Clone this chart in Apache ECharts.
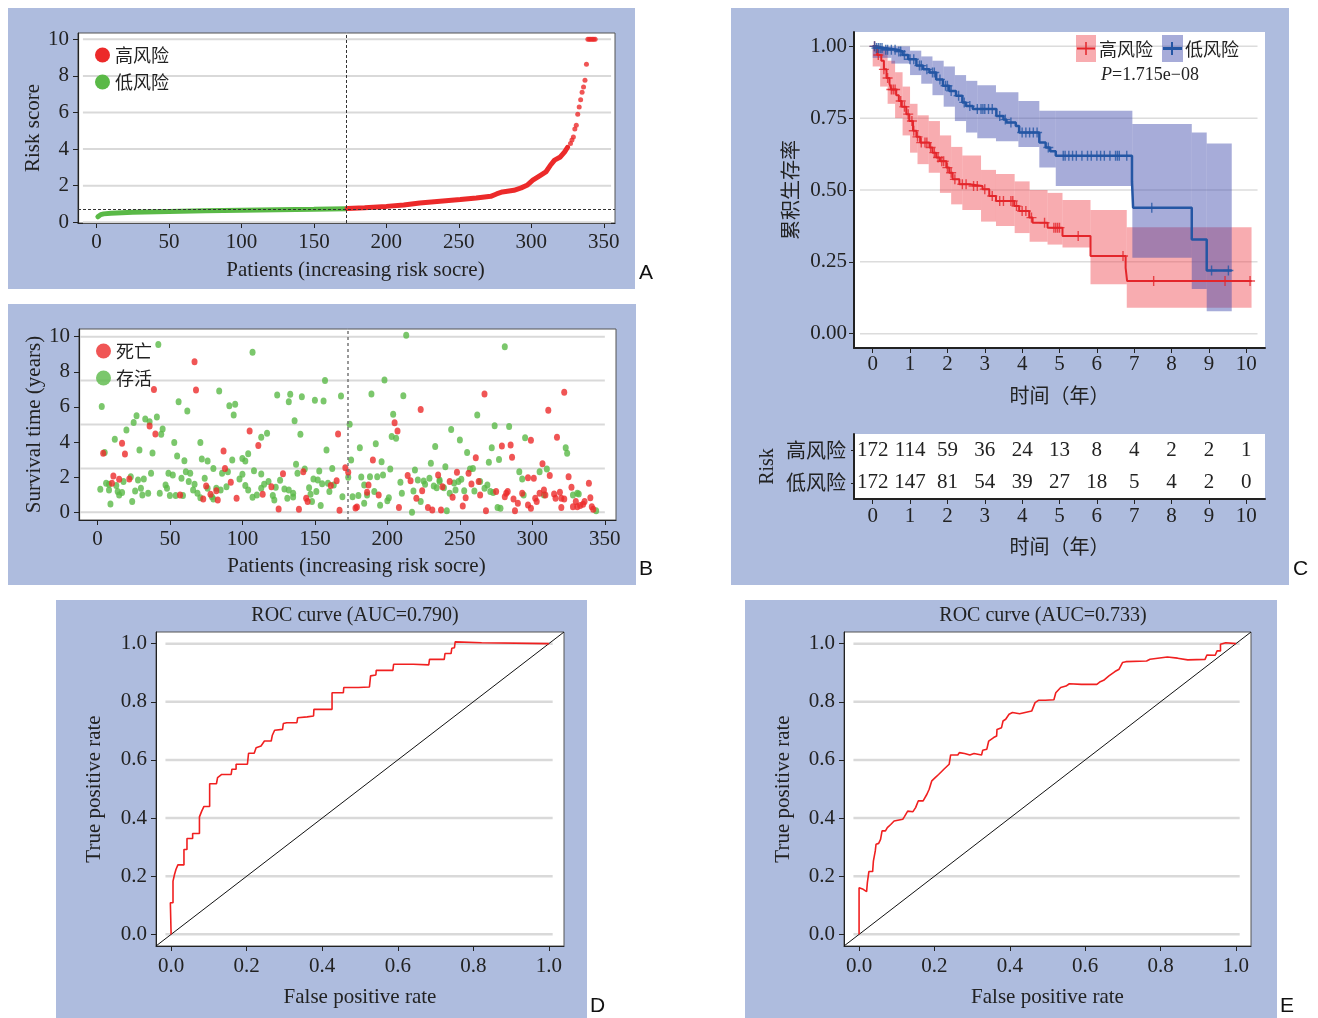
<!DOCTYPE html>
<html>
<head>
<meta charset="utf-8">
<title>风险评分、生存分析与ROC曲线</title>
<script src="https://cdn.jsdelivr.net/npm/echarts@6/dist/echarts.min.js"></script>
<style>
  html, body { margin: 0; padding: 0; background: #fff; }
  #main { width: 1318px; height: 1018px; }
</style>
</head>
<body>
<div id="main"></div>
<script>
// ---------------- 数据 ----------------
// A：按风险评分排序的患者
var lowRiskPatient = [1, 3, 5, 10, 25, 50, 75, 100, 125, 150, 172];
var lowRiskScore = [0.30, 0.42, 0.46, 0.50, 0.55, 0.59, 0.63, 0.66, 0.69, 0.71, 0.74];
var highRiskPatient = [173, 185, 200, 212, 223, 237, 251, 262, 272, 276, 280, 288, 293, 297, 301, 306, 310, 313, 316, 320, 323, 325];
var highRiskScore = [0.75, 0.80, 0.87, 0.95, 1.06, 1.15, 1.24, 1.33, 1.42, 1.55, 1.66, 1.75, 1.88, 2.02, 2.30, 2.55, 2.75, 3.10, 3.40, 3.57, 3.85, 4.10];
var tailPatient = [327, 328, 329, 330, 331, 332, 333, 334, 335, 336, 337, 338, 339, 340, 341, 342, 343, 344];
var tailScore = [4.3, 4.5, 4.66, 5.1, 5.3, 5.9, 6.3, 6.7, 7.1, 7.4, 7.76, 8.63, 10, 10, 10, 10, 10, 10];
var cutPatient = 172.5;
var cutScore = 0.74;
var patientTicks = [0, 50, 100, 150, 200, 250, 300, 350];
var riskTicks = [0, 2, 4, 6, 8, 10];

// B：生存时间（年）与状态
var alivePts = [
  [42, 9.56], [107, 9.11], [3, 6.02], [56, 6.3], [62, 5.77], [84, 6.91], [91, 6.07], [95, 6.15], [94, 5.54], [27, 5.5],
  [25, 5.12], [33, 5.31], [36, 5.16], [41, 5.43], [45, 4.74], [44, 4.44], [20, 4.69], [12, 4.16], [53, 3.98], [71, 3.97],
  [113, 4.27], [5, 3.4], [29, 3.55], [38, 3.38], [55, 3.21], [60, 2.94], [72, 3.04], [76, 2.92], [80, 2.5], [93, 2.98],
  [100, 3.07], [102, 2.92], [104, 3.34], [37, 2.22], [49, 2.22], [52, 2.13], [61, 2.31], [64, 2.22], [86, 2.22], [90, 2.31],
  [108, 2.37], [113, 2.18], [2, 1.31], [6, 1.65], [8, 1.59], [8, 1.27], [9, 0.47], [13, 1.52], [14, 1.18], [15, 0.99],
  [17, 1.12], [18, 1.75], [23, 2.03], [24, 0.61], [26, 1.21], [28, 1.84], [30, 1.37], [31, 0.99], [32, 1.9], [35, 1.08],
  [43, 1.08], [47, 1.56], [48, 1.37], [50, 0.95], [54, 0.95], [59, 0.95], [58, 1.94], [63, 1.75], [66, 1.27], [67, 1.59],
  [69, 1.08], [71, 0.83], [74, 1.94], [76, 1.37], [79, 0.89], [80, 0.76], [82, 1.37], [85, 1.27], [89, 1.46], [98, 1.9],
  [100, 2.16], [102, 1.52], [104, 1.27], [107, 0.85], [110, 0.99], [113, 1.37], [115, 1.59],
  [213, 10.09], [157, 7.5], [198, 7.53], [124, 6.68], [133, 6.72], [132, 6.3], [141, 6.58], [150, 6.38], [156, 6.34], [168, 6.62],
  [189, 6.74], [211, 6.64], [204, 5.58], [136, 5.22], [174, 5.01], [117, 4.5], [140, 4.44], [203, 4.31], [206, 4.21], [192, 3.91],
  [181, 3.68], [158, 3.55], [233, 3.74], [175, 2.98], [196, 2.88], [137, 2.73], [143, 2.47], [138, 2.22], [153, 2.35], [162, 2.5],
  [202, 2.47], [219, 2.41], [230, 2.79], [118, 1.75], [123, 1.42], [126, 1.82], [121, 0.95], [122, 0.7], [129, 1.33], [131, 0.8],
  [132, 1.27], [135, 1.08], [135, 0.87], [146, 1.4], [147, 1.02], [148, 0.61], [149, 1.9], [152, 1.84], [151, 1.18], [154, 0.38],
  [155, 1.63], [159, 1.65], [160, 1.18], [163, 1.56], [169, 0.89], [173, 1.99], [176, 0.89], [180, 0.95], [182, 2.01], [184, 1.56],
  [184, 0.51], [186, 0.99], [188, 2.03], [191, 1.18], [193, 2.03], [195, 0.4], [197, 2.13], [200, 0.65], [201, 0.83], [209, 1.71],
  [210, 1.08], [217, 0.0], [218, 1.21], [221, 1.84], [223, 0.61], [225, 1.78], [226, 1.59], [229, 1.94], [232, 1.5], [234, 1.4],
  [236, 1.84],
  [281, 9.43], [262, 5.54], [274, 4.93], [284, 4.88], [244, 4.72], [250, 4.12], [295, 4.25], [272, 3.68], [255, 3.4], [323, 3.68],
  [324, 3.36], [270, 2.85], [277, 3.0], [240, 2.6], [257, 2.47], [259, 2.5], [291, 2.31], [293, 1.9], [305, 2.31], [310, 2.47],
  [236, 1.75], [239, 1.4], [246, 1.67], [249, 1.75], [251, 1.88], [247, 1.27], [243, 1.08], [253, 1.23], [260, 1.21], [264, 1.75],
  [267, 1.37], [269, 1.56], [271, 1.18], [273, 1.12], [276, 0.27], [278, 0.23], [241, 0.09], [294, 0.99], [308, 0.99], [328, 0.99],
  [331, 1.08], [332, 1.04], [344, 0.08]
];
var deadPts = [
  [67, 8.58], [39, 7.0], [68, 6.96], [36, 4.91], [40, 4.46], [17, 3.93], [19, 3.32], [4, 3.36], [87, 3.49], [105, 4.63],
  [111, 3.8], [88, 2.5], [92, 1.71], [11, 2.07], [15, 1.88], [22, 1.9], [10, 1.65], [75, 1.5], [82, 1.23], [83, 0.7],
  [73, 0.76], [57, 0.99], [96, 0.8], [78, 1.02],
  [166, 4.46], [223, 5.86], [205, 5.1], [207, 4.63], [190, 2.98], [171, 2.54], [173, 2.28], [128, 2.2], [165, 1.8], [161, 1.52],
  [120, 1.46], [114, 1.02], [142, 2.31], [144, 0.8], [145, 0.61], [125, 0.19], [139, 0.17], [167, 0.11], [178, 0.25], [179, 0.3],
  [187, 1.56], [186, 1.14], [194, 0.99], [208, 0.27], [214, 2.09], [216, 1.8], [220, 0.8], [224, 1.23], [228, 0.27], [231, 0.13],
  [235, 2.13], [237, 0.13],
  [267, 6.74], [322, 6.83], [311, 5.81], [299, 4.1], [317, 4.27], [279, 3.78], [285, 3.83], [286, 3.13], [261, 3.11], [307, 2.77],
  [312, 2.09], [248, 2.28], [256, 2.22], [243, 1.75], [238, 1.46], [245, 0.85], [254, 0.83], [252, 0.36], [258, 1.61], [263, 1.75],
  [264, 0.99], [275, 1.18], [282, 1.08], [283, 1.18], [281, 0.89], [288, 0.09], [268, 0.09], [287, 0.76], [290, 0.51], [293, 1.08],
  [297, 1.97], [301, 1.94], [297, 0.42], [299, 0.23], [302, 0.8], [303, 0.61], [305, 1.08], [308, 1.27], [309, 0.99], [315, 1.04],
  [316, 0.8], [319, 1.14], [320, 0.8], [322, 0.76], [320, 0.27], [325, 2.03], [327, 1.42], [328, 0.32], [330, 0.61], [331, 0.32],
  [333, 0.38], [335, 0.46], [336, 0.61], [339, 1.65], [340, 0.83], [341, 0.32], [342, 0.17]
];
var survTicks = [0, 2, 4, 6, 8, 10];
var survGridY = [0, 2.5, 5, 7.5, 10];

// C：Kaplan-Meier 曲线
var kmHighT = [0, 0.12, 0.23, 0.3, 0.37, 0.45, 0.5, 0.63, 0.7, 0.78, 0.9, 0.98, 1.08, 1.17, 1.27, 1.52, 1.6, 1.7, 1.8, 1.97, 2.05, 2.14, 2.32, 2.59, 2.94, 3.12, 3.3, 3.79, 3.92, 4.19, 4.28, 4.68, 5.08, 5.83, 6.77, 6.81, 10.14];
var kmHighS = [1.0, 0.97, 0.95, 0.92, 0.89, 0.87, 0.85, 0.83, 0.81, 0.79, 0.764, 0.74, 0.706, 0.685, 0.665, 0.648, 0.63, 0.613, 0.6, 0.578, 0.56, 0.537, 0.52, 0.514, 0.503, 0.479, 0.462, 0.444, 0.427, 0.404, 0.386, 0.369, 0.34, 0.27, 0.229, 0.183, 0.183];
var kmLowT = [0, 0.1, 0.3, 0.67, 0.8, 0.95, 1.17, 1.35, 1.52, 1.7, 1.88, 2.05, 2.23, 2.4, 2.5, 2.68, 3.31, 3.5, 3.58, 3.83, 3.92, 4.46, 4.63, 4.75, 4.9, 6.94, 6.97, 8.54, 8.94, 9.61];
var kmLowS = [1.0, 0.994, 0.988, 0.982, 0.97, 0.955, 0.933, 0.92, 0.909, 0.885, 0.863, 0.845, 0.828, 0.805, 0.792, 0.782, 0.758, 0.745, 0.735, 0.723, 0.70, 0.665, 0.648, 0.635, 0.619, 0.53, 0.438, 0.328, 0.22, 0.22];
var censorHighT = [0.05, 0.15, 0.3, 0.4, 0.5, 0.55, 0.6, 0.75, 0.85, 0.95, 1.05, 1.1, 1.2, 1.3, 1.4, 1.45, 1.55, 1.65, 1.75, 1.85, 1.9, 2.0, 2.1, 2.2, 2.4, 2.5, 2.7, 2.8, 3.0, 3.2, 3.4, 3.5, 3.7, 3.75, 3.85, 4.0, 4.1, 4.25, 4.6, 4.85, 4.9, 4.95, 5.0, 5.5, 6.7, 7.52, 9.43, 10.1];
var censorLowT = [0.05, 0.1, 0.15, 0.2, 0.25, 0.35, 0.4, 0.5, 0.6, 0.7, 0.75, 0.85, 1.0, 1.1, 1.25, 1.3, 1.45, 1.6, 1.65, 1.8, 1.95, 2.0, 2.1, 2.3, 2.45, 2.6, 2.8, 2.9, 2.95, 3.0, 3.1, 3.2, 3.4, 3.55, 3.7, 4.0, 4.1, 4.2, 4.3, 4.4, 4.7, 5.1, 5.15, 5.25, 5.35, 5.45, 5.6, 5.75, 5.85, 6.0, 6.1, 6.2, 6.35, 6.5, 6.55, 6.6, 6.8, 7.47, 9.07, 9.52];
// 置信区间 [起, 止, 下限, 上限]
var bandHigh = [
  [0, 0.2, 0.93, 1.0], [0.2, 0.4, 0.86, 0.99], [0.4, 0.6, 0.8, 0.95], [0.6, 0.8, 0.75, 0.91], [0.8, 1.0, 0.69, 0.86],
  [1.0, 1.2, 0.63, 0.8], [1.2, 1.5, 0.59, 0.76], [1.5, 1.8, 0.56, 0.74], [1.8, 2.1, 0.49, 0.69], [2.1, 2.4, 0.45, 0.65],
  [2.4, 2.9, 0.43, 0.62], [2.9, 3.3, 0.39, 0.57], [3.3, 3.8, 0.375, 0.556], [3.8, 4.2, 0.35, 0.53], [4.2, 4.68, 0.32, 0.5],
  [4.68, 5.08, 0.31, 0.49], [5.08, 5.83, 0.3, 0.465], [5.83, 6.8, 0.172, 0.43], [6.8, 10.14, 0.09, 0.37]
];
var bandLow = [
  [0, 0.5, 0.96, 1.0], [0.5, 1.0, 0.94, 1.0], [1.0, 1.3, 0.9, 0.985], [1.3, 1.6, 0.87, 0.965], [1.6, 1.9, 0.83, 0.95],
  [1.9, 2.2, 0.79, 0.93], [2.2, 2.5, 0.74, 0.9], [2.5, 2.8, 0.7, 0.88], [2.8, 3.3, 0.68, 0.865], [3.3, 3.9, 0.67, 0.84],
  [3.9, 4.46, 0.65, 0.81], [4.46, 4.9, 0.578, 0.776], [4.9, 6.95, 0.514, 0.776], [6.95, 8.54, 0.264, 0.73],
  [8.54, 8.94, 0.155, 0.70], [8.94, 9.61, 0.078, 0.662]
];
var yearTicks = [0, 1, 2, 3, 4, 5, 6, 7, 8, 9, 10];
var kmTicks = [0, 0.25, 0.5, 0.75, 1.0];
var riskGroups = ['低风险', '高风险'];
var atRiskHigh = [172, 114, 59, 36, 24, 13, 8, 4, 2, 2, 1];
var atRiskLow = [172, 147, 81, 54, 39, 27, 18, 5, 4, 2, 0];

// D、E：ROC 曲线
var rocTicks = [0, 0.2, 0.4, 0.6, 0.8, 1.0];
var rocD_fpr = [0, -0.002, 0.005, 0.005, 0.009, 0.013, 0.018, 0.034, 0.034, 0.042, 0.042, 0.057, 0.057, 0.075, 0.075, 0.081, 0.087, 0.102, 0.102, 0.12, 0.123, 0.134, 0.159, 0.161, 0.172, 0.172, 0.202, 0.205, 0.22, 0.225, 0.238, 0.247, 0.265, 0.268, 0.274, 0.295, 0.297, 0.306, 0.333, 0.335, 0.36, 0.377, 0.378, 0.406, 0.426, 0.426, 0.456, 0.457, 0.496, 0.525, 0.528, 0.542, 0.543, 0.587, 0.589, 0.641, 0.682, 0.684, 0.723, 0.725, 0.741, 0.743, 0.75, 0.752, 0.822, 1.0];
var rocD_tpr = [0, 0.109, 0.109, 0.183, 0.206, 0.224, 0.239, 0.239, 0.292, 0.292, 0.33, 0.33, 0.347, 0.347, 0.404, 0.424, 0.44, 0.44, 0.518, 0.518, 0.539, 0.55, 0.55, 0.568, 0.568, 0.585, 0.585, 0.623, 0.623, 0.642, 0.648, 0.665, 0.665, 0.685, 0.702, 0.705, 0.725, 0.728, 0.728, 0.745, 0.748, 0.751, 0.774, 0.774, 0.774, 0.831, 0.831, 0.849, 0.849, 0.851, 0.889, 0.892, 0.908, 0.908, 0.929, 0.929, 0.927, 0.946, 0.946, 0.966, 0.966, 0.984, 0.986, 1.006, 1.003, 1.0];
var rocE_fpr = [0, 0, 0.011, 0.02, 0.022, 0.026, 0.036, 0.038, 0.043, 0.045, 0.052, 0.057, 0.061, 0.07, 0.075, 0.084, 0.093, 0.098, 0.116, 0.12, 0.129, 0.143, 0.15, 0.157, 0.17, 0.18, 0.186, 0.193, 0.202, 0.211, 0.225, 0.239, 0.243, 0.243, 0.262, 0.266, 0.28, 0.294, 0.305, 0.325, 0.328, 0.339, 0.344, 0.357, 0.365, 0.366, 0.378, 0.382, 0.389, 0.398, 0.407, 0.426, 0.458, 0.467, 0.476, 0.494, 0.517, 0.522, 0.535, 0.549, 0.558, 0.59, 0.631, 0.64, 0.649, 0.663, 0.679, 0.69, 0.699, 0.708, 0.763, 0.772, 0.818, 0.845, 0.872, 0.918, 0.923, 0.945, 0.95, 0.959, 0.959, 0.973, 1.0];
var rocE_tpr = [0, 0.16, 0.155, 0.147, 0.178, 0.216, 0.216, 0.252, 0.287, 0.31, 0.313, 0.327, 0.356, 0.356, 0.367, 0.378, 0.39, 0.396, 0.396, 0.404, 0.424, 0.422, 0.436, 0.459, 0.459, 0.482, 0.499, 0.528, 0.539, 0.55, 0.568, 0.585, 0.58, 0.617, 0.617, 0.625, 0.622, 0.617, 0.622, 0.617, 0.633, 0.637, 0.665, 0.677, 0.682, 0.705, 0.711, 0.734, 0.74, 0.757, 0.763, 0.759, 0.768, 0.797, 0.805, 0.805, 0.807, 0.831, 0.849, 0.854, 0.862, 0.86, 0.86, 0.869, 0.874, 0.889, 0.904, 0.912, 0.935, 0.938, 0.94, 0.946, 0.954, 0.95, 0.944, 0.946, 0.961, 0.96, 0.975, 0.975, 0.998, 1.003, 1.0];
var aucD = '0.790';
var aucE = '0.733';

(function () {
  'use strict';

  var SERIF = '"Liberation Serif", "DejaVu Serif", serif';
  var CJK = '"Noto Sans CJK SC", sans-serif';
  var INK = '#222';
  var PANEL = '#aebcde';
  var RED = '#ec2a2a';
  var GREEN = '#5ab947';
  var KM_RED = '#e3262b';
  var KM_BLUE = '#2456a4';
  var TICK_FS = 21;
  var NAME_FS = 21;

  function pairs(xs, ys) {
    return xs.map(function (x, i) { return [x, ys[i]]; });
  }
  function survAt(ts, ss, t) {
    var s = ss[0];
    for (var i = 0; i < ts.length; i++) { if (ts[i] <= t) s = ss[i]; }
    return s;
  }
  function fmtInt(v) { return String(Math.round(v)); }
  function fmt1(v) { return v.toFixed(1); }
  function fmt2(v) { return v.toFixed(2); }

  // 横向网格线（自定义系列，画在数据下面）
  function hLines(color, width) {
    return function (params, api) {
      var a = api.coord([api.value(1), api.value(0)]);
      var b = api.coord([api.value(2), api.value(0)]);
      return { type: 'line', silent: true,
        shape: { x1: a[0], y1: a[1], x2: b[0], y2: b[1] },
        style: { stroke: color, lineWidth: width } };
    };
  }
  function gridRows(ys, x0, x1) {
    return ys.map(function (y) { return [y, x0, x1]; });
  }
  function bandRect(fill) {
    return function (params, api) {
      var p0 = api.coord([api.value(0), api.value(3)]);
      var p1 = api.coord([api.value(1), api.value(2)]);
      return { type: 'rect',
        shape: { x: p0[0], y: p0[1], width: p1[0] - p0[0], height: p1[1] - p0[1] },
        style: { fill: fill } };
    };
  }

  function valueAxis(gi, min, max, ticks, fmt, margin, lineW) {
    return {
      type: 'value', gridIndex: gi, min: min, max: max,
      axisLine: { show: true, onZero: false, lineStyle: { color: INK, width: lineW } },
      axisTick: { show: true, length: 5, customValues: ticks, lineStyle: { color: INK, width: 1 } },
      axisLabel: { show: true, customValues: ticks, margin: margin, fontSize: TICK_FS, color: INK, fontFamily: SERIF, formatter: fmt },
      splitLine: { show: false },
      nameLocation: 'middle',
      nameTextStyle: { fontSize: NAME_FS, color: INK, fontFamily: SERIF }
    };
  }
  function named(ax, name, gap, rotate, cjk) {
    ax.name = name;
    ax.nameGap = gap;
    if (rotate) ax.nameRotate = 90;
    if (cjk) ax.nameTextStyle = { fontSize: 20, color: INK, fontFamily: CJK };
    return ax;
  }

  var plusSymbol = 'path://M-1,-0.14L1,-0.14L1,0.14L-1,0.14Z M-0.14,-1L0.14,-1L0.14,1L-0.14,1Z';

  var censorHigh = censorHighT.map(function (t) { return [t, survAt(kmHighT, kmHighS, t)]; });
  var censorLow = censorLowT.map(function (t) { return [t, survAt(kmLowT, kmLowS, t)]; });

  var tableRows = [];
  yearTicks.forEach(function (y, i) {
    tableRows.push([y, 1, atRiskHigh[i]]);
    tableRows.push([y, 0, atRiskLow[i]]);
  });

  var boxGrid = { show: true, backgroundColor: '#fff', borderColor: '#555', borderWidth: 1, outerBoundsMode: 'none' };
  var openGrid = { show: true, backgroundColor: '#fff', borderWidth: 0, outerBoundsMode: 'none' };

  var patientAxisA = named(valueAxis(0, -12.7, 357.7, patientTicks, fmtInt, 9, 1.2), 'Patients (increasing risk socre)', 37);
  var patientAxisB = named(valueAxis(1, -12.7, 357.7, patientTicks, fmtInt, 9, 1.2), 'Patients (increasing risk socre)', 36);
  // 标题略偏右，与原图一致
  patientAxisA.nameTextStyle.padding = [0, 0, 0, 18];
  patientAxisB.nameTextStyle.padding = [0, 0, 0, 18];

  var chart = echarts.init(document.getElementById('main'));

  var option = {
    animation: false,
    backgroundColor: '#fff',
    grid: [
      Object.assign({ left: 78, top: 33, width: 537, height: 190 }, boxGrid),
      Object.assign({ left: 79, top: 329, width: 537, height: 191 }, boxGrid),
      Object.assign({ left: 854, top: 32, width: 411, height: 316 }, openGrid),
      Object.assign({ left: 854, top: 434, width: 411, height: 65 }, openGrid),
      Object.assign({ left: 156, top: 632, width: 408, height: 314 }, boxGrid),
      Object.assign({ left: 844, top: 632, width: 407, height: 314 }, boxGrid)
    ],
    xAxis: [
      patientAxisA,
      patientAxisB,
      named(valueAxis(2, -0.5, 10.5, yearTicks, fmtInt, 6, 2), '时间（年）', 37, false, true),
      named(valueAxis(3, -0.5, 10.5, yearTicks, fmtInt, 7, 2), '时间（年）', 37, false, true),
      named(valueAxis(4, -0.04, 1.04, rocTicks, fmt1, 10, 1), 'False positive rate', 41),
      named(valueAxis(5, -0.04, 1.04, rocTicks, fmt1, 10, 1), 'False positive rate', 41)
    ],
    yAxis: [
      named(valueAxis(0, -0.038, 10.344, riskTicks, fmtInt, 9, 1.2), 'Risk score', 34, true),
      named(valueAxis(1, -0.44, 10.44, survTicks, fmtInt, 9, 1.2), 'Survival time (years)', 34, true),
      named(valueAxis(2, -0.05, 1.05, kmTicks, fmt2, 7, 2), '累积生存率', 54, true, true),
      {
        type: 'category', gridIndex: 3, data: riskGroups,
        axisLine: { show: true, onZero: false, lineStyle: { color: INK, width: 2 } },
        axisTick: { show: true, length: 3, alignWithLabel: true, lineStyle: { color: INK } },
        axisLabel: { margin: 8, fontSize: 20, color: INK, fontFamily: CJK },
        splitLine: { show: false },
        name: 'Risk', nameLocation: 'middle', nameGap: 76, nameRotate: 90,
        nameTextStyle: { fontSize: 20, color: INK, fontFamily: SERIF }
      },
      named(valueAxis(4, -0.04, 1.04, rocTicks, fmt1, 9, 1), 'True positive rate', 51, true),
      named(valueAxis(5, -0.04, 1.04, rocTicks, fmt1, 9, 1), 'True positive rate', 50, true)
    ],
    legend: [
      {
        data: ['高风险', '低风险'], left: 95, top: 46, padding: 0, orient: 'vertical', icon: 'circle',
        itemWidth: 15, itemHeight: 15, itemGap: 9, selectedMode: false,
        textStyle: { fontSize: 18, color: INK, fontFamily: CJK }
      },
      {
        data: ['死亡', '存活'], left: 96, top: 342, padding: 0, orient: 'vertical', icon: 'circle',
        itemWidth: 15, itemHeight: 15, itemGap: 9, selectedMode: false,
        textStyle: { fontSize: 18, color: INK, fontFamily: CJK }
      }
    ],
    series: [
      // ---- A ----
      { type: 'custom', xAxisIndex: 0, yAxisIndex: 0, z: 1, silent: true,
        renderItem: hLines('#d9d9d9', 2), data: gridRows(riskTicks, -9.3, 355), encode: { x: [1, 2], y: 0 } },
      { type: 'line', name: '低风险', xAxisIndex: 0, yAxisIndex: 0, z: 3,
        data: pairs(lowRiskPatient, lowRiskScore), symbol: 'none',
        lineStyle: { color: GREEN, width: 5, cap: 'round' }, itemStyle: { color: GREEN },
        markLine: { silent: true, symbol: 'none', label: { show: false },
          lineStyle: { type: [3, 2], color: '#333', width: 1 },
          data: [{ xAxis: cutPatient }, { yAxis: cutScore }] } },
      { type: 'line', name: '高风险', xAxisIndex: 0, yAxisIndex: 0, z: 3,
        data: pairs(highRiskPatient, highRiskScore), symbol: 'none',
        lineStyle: { color: RED, width: 5, cap: 'round' }, itemStyle: { color: RED } },
      { type: 'scatter', name: '高风险', xAxisIndex: 0, yAxisIndex: 0, z: 3, clip: false,
        data: pairs(tailPatient, tailScore), symbolSize: 5, itemStyle: { color: RED } },

      // ---- B ----
      { type: 'custom', xAxisIndex: 1, yAxisIndex: 1, z: 1, silent: true,
        renderItem: hLines('#d9d9d9', 2), data: gridRows(survGridY, -12, 350), encode: { x: [1, 2], y: 0 } },
      { type: 'scatter', name: '存活', xAxisIndex: 1, yAxisIndex: 1, z: 3, clip: false,
        data: alivePts, symbolSize: [6, 7], itemStyle: { color: GREEN } },
      { type: 'scatter', name: '死亡', xAxisIndex: 1, yAxisIndex: 1, z: 3, clip: false,
        data: deadPts, symbolSize: [6, 7], itemStyle: { color: RED },
        markLine: { silent: true, symbol: 'none', label: { show: false },
          lineStyle: { type: [3, 3], color: '#777', width: 1.5 },
          data: [{ xAxis: cutPatient }] } },

      // ---- C ----
      { type: 'custom', xAxisIndex: 2, yAxisIndex: 2, z: 1, silent: true,
        renderItem: hLines('#dcdcdc', 1.5), data: gridRows(kmTicks, -0.34, 10.3), encode: { x: [1, 2], y: 0 } },
      { type: 'custom', name: '高风险区间', xAxisIndex: 2, yAxisIndex: 2, z: 2, silent: true,
        renderItem: bandRect('rgba(240,70,80,0.45)'), data: bandHigh, encode: { x: [0, 1], y: [2, 3] } },
      { type: 'custom', name: '低风险区间', xAxisIndex: 2, yAxisIndex: 2, z: 2, silent: true,
        renderItem: bandRect('rgba(60,70,170,0.45)'), data: bandLow, encode: { x: [0, 1], y: [2, 3] } },
      { type: 'line', name: 'KM高风险', xAxisIndex: 2, yAxisIndex: 2, z: 4, step: 'end',
        data: pairs(kmHighT, kmHighS), symbol: 'none', lineStyle: { color: KM_RED, width: 2 } },
      { type: 'line', name: 'KM低风险', xAxisIndex: 2, yAxisIndex: 2, z: 4, step: 'end',
        data: pairs(kmLowT, kmLowS), symbol: 'none', lineStyle: { color: KM_BLUE, width: 2.5 } },
      { type: 'scatter', name: '删失高风险', xAxisIndex: 2, yAxisIndex: 2, z: 5, clip: false,
        data: censorHigh, symbol: plusSymbol, symbolSize: 10, itemStyle: { color: KM_RED } },
      { type: 'scatter', name: '删失低风险', xAxisIndex: 2, yAxisIndex: 2, z: 5, clip: false,
        data: censorLow, symbol: plusSymbol, symbolSize: 10, itemStyle: { color: KM_BLUE } },

      // ---- 风险人数表 ----
      { type: 'custom', xAxisIndex: 3, yAxisIndex: 3, z: 3, silent: true,
        data: tableRows, encode: { x: 0, y: 1 },
        renderItem: function (params, api) {
          var p = api.coord([api.value(0), api.value(1)]);
          return { type: 'text', x: p[0], y: p[1],
            style: { text: String(api.value(2)), fontSize: 21, fontFamily: SERIF, fill: INK,
              align: 'center', verticalAlign: 'middle', textAlign: 'center', textVerticalAlign: 'middle' } };
        } },

      // ---- D ----
      { type: 'custom', xAxisIndex: 4, yAxisIndex: 4, z: 1, silent: true,
        renderItem: hLines('#d9d9d9', 2.5), data: gridRows(rocTicks, -0.015, 1.01), encode: { x: [1, 2], y: 0 } },
      { type: 'line', xAxisIndex: 4, yAxisIndex: 4, z: 3, data: [[-0.04, -0.04], [1.04, 1.04]],
        symbol: 'none', lineStyle: { color: '#111', width: 1 } },
      { type: 'line', name: 'ROC D', xAxisIndex: 4, yAxisIndex: 4, z: 4, clip: false,
        data: pairs(rocD_fpr, rocD_tpr), symbol: 'none', lineStyle: { color: '#f02020', width: 1.6 } },

      // ---- E ----
      { type: 'custom', xAxisIndex: 5, yAxisIndex: 5, z: 1, silent: true,
        renderItem: hLines('#d9d9d9', 2.5), data: gridRows(rocTicks, -0.015, 1.01), encode: { x: [1, 2], y: 0 } },
      { type: 'line', xAxisIndex: 5, yAxisIndex: 5, z: 3, data: [[-0.04, -0.04], [1.04, 1.04]],
        symbol: 'none', lineStyle: { color: '#111', width: 1 } },
      { type: 'line', name: 'ROC E', xAxisIndex: 5, yAxisIndex: 5, z: 4, clip: false,
        data: pairs(rocE_fpr, rocE_tpr), symbol: 'none', lineStyle: { color: '#f02020', width: 1.6 } }
    ],
    graphic: [
      // 面板底色
      { type: 'rect', z: -10, silent: true, shape: { x: 8, y: 8, width: 627, height: 281 }, style: { fill: PANEL } },
      { type: 'rect', z: -10, silent: true, shape: { x: 8, y: 304, width: 628, height: 281 }, style: { fill: PANEL } },
      { type: 'rect', z: -10, silent: true, shape: { x: 731, y: 8, width: 558, height: 577 }, style: { fill: PANEL } },
      { type: 'rect', z: -10, silent: true, shape: { x: 56, y: 600, width: 531, height: 418 }, style: { fill: PANEL } },
      { type: 'rect', z: -10, silent: true, shape: { x: 745, y: 600, width: 532, height: 418 }, style: { fill: PANEL } },
      // 面板字母
      { type: 'text', z: 100, x: 639, y: 273, style: { text: 'A', fontSize: 21, fontFamily: '"Liberation Sans", sans-serif', fill: '#111', verticalAlign: 'middle', textVerticalAlign: 'middle' } },
      { type: 'text', z: 100, x: 639, y: 569, style: { text: 'B', fontSize: 21, fontFamily: '"Liberation Sans", sans-serif', fill: '#111', verticalAlign: 'middle', textVerticalAlign: 'middle' } },
      { type: 'text', z: 100, x: 1293, y: 569, style: { text: 'C', fontSize: 21, fontFamily: '"Liberation Sans", sans-serif', fill: '#111', verticalAlign: 'middle', textVerticalAlign: 'middle' } },
      { type: 'text', z: 100, x: 590, y: 1006, style: { text: 'D', fontSize: 21, fontFamily: '"Liberation Sans", sans-serif', fill: '#111', verticalAlign: 'middle', textVerticalAlign: 'middle' } },
      { type: 'text', z: 100, x: 1280, y: 1006, style: { text: 'E', fontSize: 21, fontFamily: '"Liberation Sans", sans-serif', fill: '#111', verticalAlign: 'middle', textVerticalAlign: 'middle' } },
      // ROC 标题
      { type: 'text', z: 100, x: 355, y: 616, style: { text: 'ROC curve (AUC=' + aucD + ')', fontSize: 20, fontFamily: SERIF, fill: INK, align: 'center', verticalAlign: 'middle', textAlign: 'center', textVerticalAlign: 'middle' } },
      { type: 'text', z: 100, x: 1043, y: 616, style: { text: 'ROC curve (AUC=' + aucE + ')', fontSize: 20, fontFamily: SERIF, fill: INK, align: 'center', verticalAlign: 'middle', textAlign: 'center', textVerticalAlign: 'middle' } },
      // KM 图例
      { type: 'rect', z: 100, shape: { x: 1076, y: 35, width: 20, height: 27 }, style: { fill: 'rgba(240,70,80,0.45)' } },
      { type: 'line', z: 101, shape: { x1: 1077, y1: 48.5, x2: 1095, y2: 48.5 }, style: { stroke: KM_RED, lineWidth: 2 } },
      { type: 'line', z: 101, shape: { x1: 1086, y1: 42, x2: 1086, y2: 55 }, style: { stroke: KM_RED, lineWidth: 1.5 } },
      { type: 'text', z: 101, x: 1099, y: 49, style: { text: '高风险', fontSize: 18, fontFamily: CJK, fill: INK, verticalAlign: 'middle', textVerticalAlign: 'middle' } },
      { type: 'rect', z: 100, shape: { x: 1162, y: 35, width: 21, height: 27 }, style: { fill: 'rgba(60,70,170,0.45)' } },
      { type: 'line', z: 101, shape: { x1: 1163, y1: 48.5, x2: 1182, y2: 48.5 }, style: { stroke: KM_BLUE, lineWidth: 3 } },
      { type: 'line', z: 101, shape: { x1: 1172, y1: 42, x2: 1172, y2: 55 }, style: { stroke: KM_BLUE, lineWidth: 2 } },
      { type: 'text', z: 101, x: 1185, y: 49, style: { text: '低风险', fontSize: 18, fontFamily: CJK, fill: INK, verticalAlign: 'middle', textVerticalAlign: 'middle' } },
      { type: 'text', z: 101, x: 1150, y: 75, style: { text: '{i|P}=1.715e\u221208', fontSize: 18, fontFamily: SERIF, fill: INK,
        align: 'center', verticalAlign: 'middle', textAlign: 'center', textVerticalAlign: 'middle',
        rich: { i: { fontStyle: 'italic', fontSize: 18, fontFamily: SERIF, fill: INK } } } }
    ]
  };

  chart.setOption(option);
}());
</script>
</body>
</html>
